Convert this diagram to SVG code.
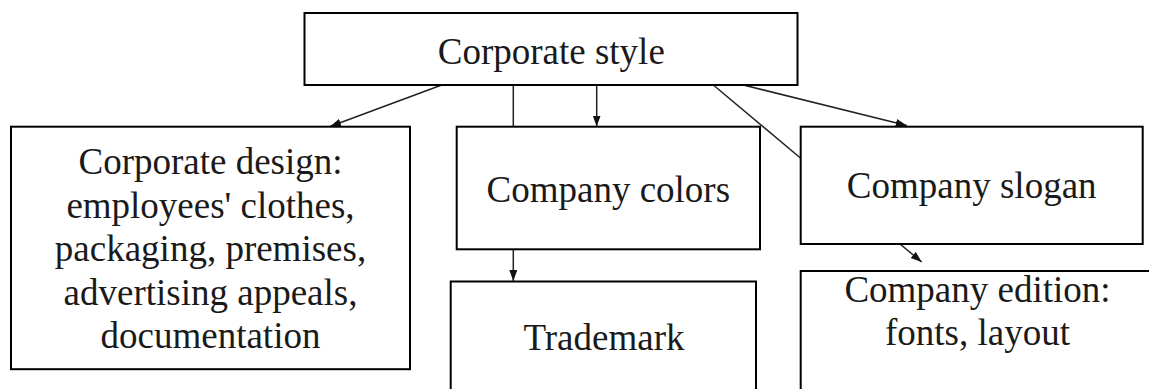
<svg xmlns="http://www.w3.org/2000/svg" width="1149" height="389" viewBox="0 0 1149 389">
<style>
.box{fill:#fff;stroke:#000;stroke-width:2}
.t{font-family:"Liberation Serif","Times New Roman",serif;font-size:37px;fill:#1a1a1a;text-anchor:middle}
.c{stroke:#222;stroke-width:1.5;fill:none}
</style>
<defs>
<marker id="ah" markerUnits="userSpaceOnUse" markerWidth="12" markerHeight="10" refX="11" refY="4" orient="auto">
<path d="M0,0 L11,4 L0,8 z" fill="#111"/>
</marker>
</defs>
<rect width="1149" height="389" fill="#fff"/>
<g id="connectors">
<line class="c" x1="441.7" y1="85" x2="330" y2="126.5" marker-end="url(#ah)"/>
<line class="c" x1="513.3" y1="85" x2="513.3" y2="126.5"/>
<line class="c" x1="596.7" y1="85" x2="596.7" y2="126.5" marker-end="url(#ah)"/>
<line class="c" x1="713.3" y1="85" x2="800.7" y2="158.3"/>
<line class="c" x1="743.3" y1="85" x2="906.7" y2="125.5" marker-end="url(#ah)"/>
<line class="c" x1="900" y1="244" x2="921.7" y2="262" marker-end="url(#ah)"/>
<line class="c" x1="513.3" y1="249.3" x2="513.3" y2="281" marker-end="url(#ah)"/>
</g>
<g id="n-style">
<rect class="box" x="304.5" y="13" width="493" height="72"/>
<text class="t" x="551.3" y="64">Corporate style</text>
</g>
<g id="n-design">
<rect class="box" x="11" y="126.7" width="399" height="242.5"/>
<text class="t" x="210.5" y="174">Corporate design:</text>
<text class="t" x="210.5" y="217.5">employees' clothes,</text>
<text class="t" x="210.5" y="261">packaging, premises,</text>
<text class="t" x="210.5" y="304.5">advertising appeals,</text>
<text class="t" x="210.5" y="348">documentation</text>
</g>
<g id="n-colors">
<rect class="box" x="456.7" y="126.7" width="303.3" height="122.6"/>
<text class="t" x="608.3" y="201.7">Company colors</text>
</g>
<g id="n-trademark">
<rect class="box" x="450.7" y="281.5" width="305.3" height="130"/>
<text class="t" x="604" y="350">Trademark</text>
</g>
<g id="n-slogan">
<rect class="box" x="800.7" y="126.7" width="342" height="117.3"/>
<text class="t" x="971.7" y="198.3">Company slogan</text>
</g>
<g id="n-edition">
<rect class="box" x="800.7" y="271" width="353" height="130"/>
<text class="t" x="977.5" y="301.7">Company edition:</text>
<text class="t" x="977.5" y="345">fonts, layout</text>
</g>
</svg>
